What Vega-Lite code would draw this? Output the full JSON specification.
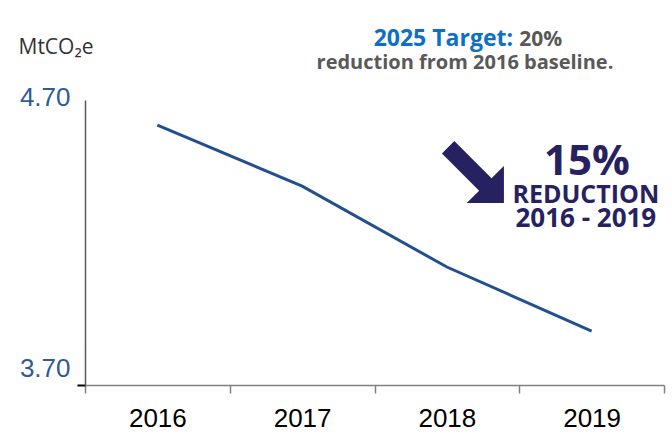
{
  "$schema": "https://vega.github.io/schema/vega-lite/v6.json",
  "width": 579,
  "height": 285,
  "autosize": "none",
  "padding": {"left": 85, "top": 100, "right": 8, "bottom": 55},
  "background": "white",
  "config": {"view": {"stroke": null}},
  "layer": [
    {
      "data": {"values": [
        {"year": 2016, "emissions": 4.612},
        {"year": 2017, "emissions": 4.398},
        {"year": 2018, "emissions": 4.114},
        {"year": 2019, "emissions": 3.889}
      ]},
      "mark": {"type": "line", "color": "#22508f", "strokeWidth": 3},
      "encoding": {
        "x": {
          "field": "year", "type": "quantitative",
          "scale": {"domain": [2015.5, 2019.5], "nice": false, "zero": false},
          "axis": {
            "values": [2015.5, 2016, 2016.5, 2017, 2017.5, 2018, 2018.5, 2019, 2019.5],
            "title": null, "grid": false,
            "domainColor": "#808080", "domainWidth": 1.5,
            "tickColor": "#808080", "tickWidth": 1.5, "tickSize": 8,
            "tickOpacity": {"condition": {"test": "datum.value % 1 == 0", "value": 0}, "value": 1},
            "labelExpr": "datum.value % 1 == 0 ? toString(datum.value) : ''",
            "labelFont": "Liberation Sans", "labelFontSize": 26, "labelColor": "#000000",
            "labelPadding": 12, "labelBaseline": "top", "labelFlush": false, "labelOverlap": false
          }
        },
        "y": {
          "field": "emissions", "type": "quantitative",
          "scale": {"domain": [3.7, 4.7], "nice": false, "zero": false},
          "axis": {
            "values": [3.7, 4.7], "format": ".2f", "grid": false,
            "domainColor": "#595959", "domainWidth": 1.5,
            "tickSize": 8, "tickWidth": 2,
            "tickColor": {"condition": {"test": "datum.value < 4", "value": "#000000"}, "value": "transparent"},
            "labelFont": "Liberation Sans", "labelFontSize": 26, "labelColor": "#2e5b93",
            "labelPadding": 7,
            "labelOffset": {"condition": {"test": "datum.value < 4", "value": -17}, "value": -3},
            "labelBaseline": "middle",
            "title": "MtCO₂e", "titleAngle": 0, "titleAlign": "left", "titleBaseline": "middle",
            "titleX": -67, "titleY": -53,
            "titleFont": "Open Sans", "titleFontWeight": "normal", "titleFontSize": 21, "titleColor": "#333333"
          }
        }
      }
    },
    {
      "data": {"values": [{"year": 2018.18, "emissions": 4.447}]},
      "mark": {
        "type": "point", "filled": true, "opacity": 1, "color": "#262262", "size": 3844,
        "shape": "M -1 -0.6 L 0.2 0.6 L -0.2 1 L 1 1 L 1 -0.2 L 0.6 0.2 L -0.6 -1 Z"
      },
      "encoding": {
        "x": {"field": "year", "type": "quantitative"},
        "y": {"field": "emissions", "type": "quantitative"}
      }
    },
    {
      "data": {"values": [{"year": 2018.968, "emissions": 4.437, "label": "15%"}]},
      "mark": {"type": "text", "font": "Open Sans", "fontWeight": "bold", "fontSize": 42, "color": "#262262", "align": "center", "baseline": "alphabetic"},
      "encoding": {
        "x": {"field": "year", "type": "quantitative"},
        "y": {"field": "emissions", "type": "quantitative"},
        "text": {"field": "label"}
      }
    },
    {
      "data": {"values": [{"year": 2018.96, "emissions": 4.339, "label": "REDUCTION"}]},
      "mark": {"type": "text", "font": "Open Sans", "fontWeight": "bold", "fontSize": 25, "color": "#262262", "align": "center", "baseline": "alphabetic"},
      "encoding": {
        "x": {"field": "year", "type": "quantitative"},
        "y": {"field": "emissions", "type": "quantitative"},
        "text": {"field": "label"}
      }
    },
    {
      "data": {"values": [{"year": 2018.96, "emissions": 4.254, "label": "2016 - 2019"}]},
      "mark": {"type": "text", "font": "Open Sans", "fontWeight": "bold", "fontSize": 26, "color": "#262262", "align": "center", "baseline": "alphabetic"},
      "encoding": {
        "x": {"field": "year", "type": "quantitative"},
        "y": {"field": "emissions", "type": "quantitative"},
        "text": {"field": "label"}
      }
    },
    {
      "data": {"values": [{"year": 2018.457, "emissions": 4.889, "label": "2025 Target:"}]},
      "mark": {"type": "text", "font": "Open Sans", "fontWeight": "bold", "fontSize": 23, "color": "#0b70c6", "align": "right", "baseline": "alphabetic"},
      "encoding": {
        "x": {"field": "year", "type": "quantitative"},
        "y": {"field": "emissions", "type": "quantitative"},
        "text": {"field": "label"}
      }
    },
    {
      "data": {"values": [{"year": 2018.5, "emissions": 4.889, "label": "20%"}]},
      "mark": {"type": "text", "font": "Open Sans", "fontWeight": "bold", "fontSize": 21, "color": "#595959", "align": "left", "baseline": "alphabetic"},
      "encoding": {
        "x": {"field": "year", "type": "quantitative"},
        "y": {"field": "emissions", "type": "quantitative"},
        "text": {"field": "label"}
      }
    },
    {
      "data": {"values": [{"year": 2018.125, "emissions": 4.809, "label": "reduction from 2016 baseline."}]},
      "mark": {"type": "text", "font": "Open Sans", "fontWeight": "bold", "fontSize": 20, "color": "#595959", "align": "center", "baseline": "alphabetic"},
      "encoding": {
        "x": {"field": "year", "type": "quantitative"},
        "y": {"field": "emissions", "type": "quantitative"},
        "text": {"field": "label"}
      }
    }
  ]
}
